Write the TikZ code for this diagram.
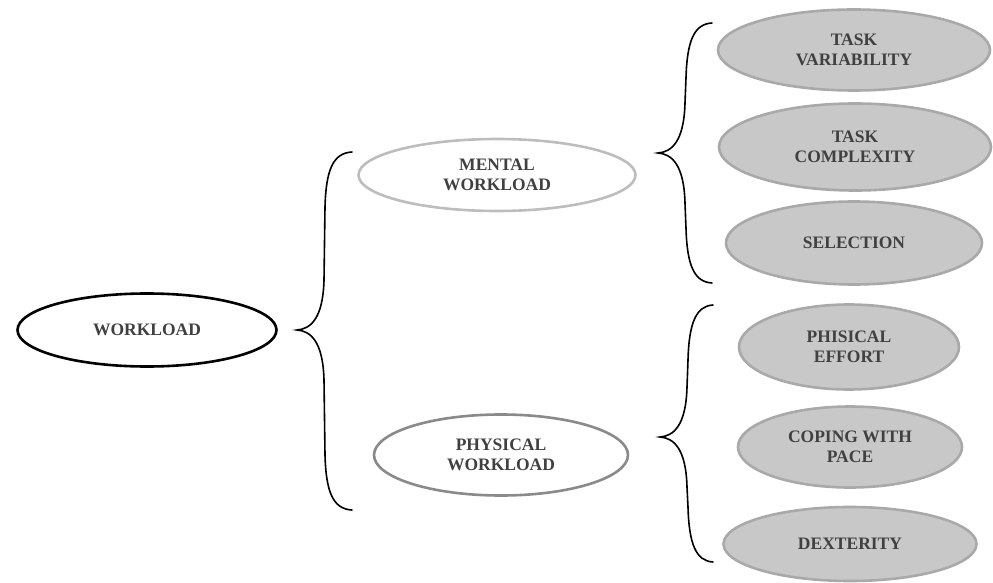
\documentclass[tikz,border=0pt]{standalone}
\usepackage{fontspec}
\setmainfont{Liberation Serif}
\usetikzlibrary{shapes.geometric}
\definecolor{txtgray}{HTML}{404040}
\definecolor{lightring}{HTML}{BDBDBD}
\definecolor{midring}{HTML}{8A8A8A}
\definecolor{leaffill}{HTML}{C8C8C8}
\definecolor{leafring}{HTML}{A9A9A9}
\newcommand\drawcurly[5]{% tipx, tipy, topy, boty, endx
  \draw[bracestyle] (#5,#3) .. controls ({#1+36},{#3+1}) and ({#1+29},{#3+18}) .. ({#1+28},{#3+55})
    -- ({#1+27},{#2-50}) .. controls ({#1+26},{#2-12}) and ({#1+14},{#2-1}) .. (#1,#2)
    .. controls ({#1+14},{#2+1}) and ({#1+26},{#2+12}) .. ({#1+27},{#2+50})
    -- ({#1+28},{#4-55}) .. controls ({#1+29},{#4-18}) and ({#1+36},{#4-1}) .. (#5,#4);}
\begin{document}
\begin{tikzpicture}[x=1pt,y=-1pt,
  every node/.style={font=\fontsize{17.5}{20.5}\selectfont\bfseries, text=txtgray, align=center, inner sep=0pt},
  oval/.style={ellipse, line width=2.6pt},
  root/.style={oval, draw=black},
  mentalbox/.style={oval, draw=lightring},
  physbox/.style={oval, draw=midring},
  leaf/.style={oval, draw=leafring, fill=leaffill},
  bracestyle/.style={draw=black, line width=1.6pt, line cap=round}]
\useasboundingbox (0,0) rectangle (993,583);

\node[root, minimum width=259pt, minimum height=73pt] (work) at (147,330) {WORKLOAD};
\node[mentalbox, minimum width=277pt, minimum height=72pt] (mental) at (497,175) {MENTAL\\WORKLOAD};
\node[physbox, minimum width=254pt, minimum height=81pt] (phys) at (501,455) {PHYSICAL\\WORKLOAD};

\node[leaf, minimum width=272pt, minimum height=81pt] (tv) at (854,50) {TASK\\VARIABILITY};
\node[leaf, minimum width=272pt, minimum height=87pt] (tc) at (855,147) {TASK\\COMPLEXITY};
\node[leaf, minimum width=256pt, minimum height=83pt] (sel) at (854,243) {SELECTION};
\node[leaf, minimum width=220pt, minimum height=85pt] (pe) at (849,347) {PHISICAL\\EFFORT};
\node[leaf, minimum width=224pt, minimum height=81pt] (cp) at (850,447) {COPING WITH\\PACE};
\node[leaf, minimum width=253pt, minimum height=74pt] (dex) at (850,544) {DEXTERITY};

\drawcurly{297}{330}{152}{510}{352}
\drawcurly{658}{153}{23}{283}{712}
\drawcurly{660}{437}{305}{562}{713}
\end{tikzpicture}
\end{document}
